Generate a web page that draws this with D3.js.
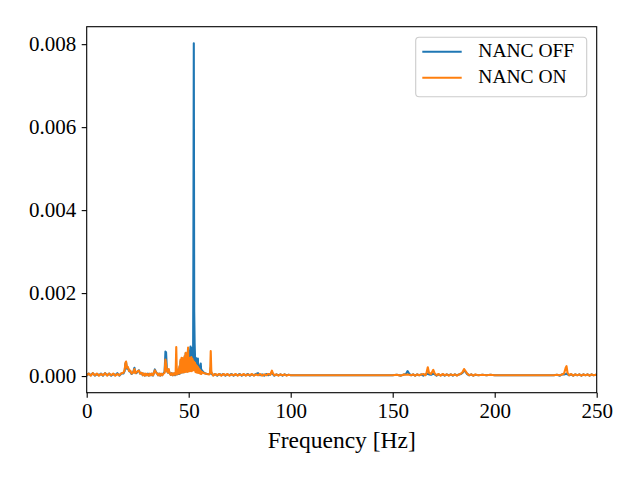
<!DOCTYPE html>
<html>
<head>
<meta charset="utf-8">
<script src="https://cdn.jsdelivr.net/npm/d3@7"></script>
<style>
body { margin: 0; background: #fff; }
svg text { font-family: "Liberation Serif", "Times New Roman", serif; }
</style>
</head>
<body>
<div id="chart"></div>
<script>
// spectrum values are in units of 1e-5
var valueUnit = 1e-5;

var freqs = [
    0, 1, 2, 3, 4, 5, 6, 7, 8, 9, 10, 11, 12, 13, 14, 15, 16, 17,
    18, 18.6, 19.0, 19.3, 19.7, 20.2, 20.8, 21.4, 22.0, 22.8, 23.4, 23.8, 24.4, 25.0, 25.6, 26.2, 27.0,
    27.5, 28, 28.5, 29, 29.5, 30, 30.5, 31, 31.5, 32, 32.5,
    33.0, 33.4, 33.9, 34.5, 35, 35.5, 36, 36.5, 37, 37.5, 38.2, 38.6, 38.9, 39.3, 39.8, 40.2, 40.6, 41.2, 41.7, 42.2, 42.8, 43.3, 43.6, 43.9, 44.2, 44.5, 44.8,
    45.0, 45.25, 45.5, 45.75, 46.0, 46.25, 46.5, 46.75, 47.0, 47.25,
    47.5, 47.75, 48.0, 48.25, 48.5, 48.75, 49.0, 49.25, 49.5, 49.7,
    49.9, 50.1, 50.35, 50.6, 50.9, 51.1, 51.3, 51.5, 51.75, 52.0,
    52.15, 52.3, 52.5, 52.7, 52.9, 53.1, 53.3, 53.5, 53.75, 54.0,
    54.25, 54.5, 54.75, 55.0, 55.25, 55.5, 55.75, 55.9, 56.2, 56.5, 57.0,
    57.6, 58.2, 59, 60, 60.5, 60.8, 61.1, 61.6,
    62, 63, 64, 65, 66, 67, 68, 69, 70, 71, 72, 73, 74, 75, 76, 77, 78, 79, 80, 81, 82, 83, 84, 85, 86, 87, 88, 89, 90,
    90.4, 90.8, 91.2,
    92, 93, 94, 95, 96, 97, 98, 99, 100,
    102, 104, 106, 108, 110, 114, 118, 122, 126, 130,
    134, 138, 142, 146, 150, 152, 154, 155.5, 156.5, 157.3,
    158, 159, 160, 161, 162, 163, 164, 165, 166, 166.5,
    167.2, 167.8, 168.8, 169.9, 170.6, 171.5, 172.5, 173.5, 174.5, 175.5,
    176.5, 177.5, 178.5, 179.5, 180.5, 181.5, 182.5, 183.5, 184.3, 185.0,
    185.7, 186.5, 187.5, 188.5, 189.5, 190.5, 192, 194, 196, 198,
    200, 203, 206, 210, 214, 218, 222, 226, 229, 230.5,
    232, 233, 234, 234.8, 235.2, 235.7, 236.5, 237.5, 238.5, 239.5,
    240.5, 241.5, 242.5, 243.5, 244.5, 245.5, 246.5, 247.5, 248.5, 249.5,
    250
];

var nancOff = [
    1, 6, 2, 7, 1, 5, 2, 6, 1, 7, 2, 6, 1, 5, 2, 7, 1, 6,
    6, 12, 30, 33, 18, 20, 12, 10, 5, 9, 20, 8, 7, 11, 14, 6, 7,
    2, 6, 1, 5, 2, 6, 1, 5, 2, 6, 1,
    8, 16, 10, 6, 2, 6, 1, 5, 2, 6, 10, 59, 57, 15, 8, 14, 8, 3, 7, 2, 6, 2, 6, 10, 4, 8, 8,
    14, 5, 22, 6, 36, 8, 40, 10, 42, 9,
    36, 10, 46, 12, 54, 11, 46, 12, 55, 62,
    12, 44, 13, 58, 71, 14, 62, 15, 68, 58,
    20, 300, 802, 155, 80, 46, 14, 44, 12, 40,
    10, 42, 9, 26, 8, 24, 8, 30, 7, 14, 10,
    8, 6, 5, 5, 6, 20, 6, 4,
    2, 5, 1, 5, 2, 5, 1, 4, 2, 5, 1, 4, 2, 5, 1, 4, 2, 5, 1, 4, 2, 5, 7, 2, 4, 1, 5, 2, 5,
    6, 10, 5,
    1, 4, 2, 4, 1, 4, 2, 3, 2,
    2, 2, 2, 2, 2, 2, 2, 2, 2, 2,
    2, 2, 2, 2, 2, 3, 1, 4, 5, 12,
    6, 2, 4, 1, 4, 2, 4, 1, 4, 4,
    6, 4, 3, 6, 4, 1, 4, 2, 4, 1,
    4, 2, 4, 1, 4, 2, 4, 5, 8, 14,
    10, 5, 2, 4, 1, 3, 2, 3, 2, 3,
    2, 2, 2, 2, 2, 2, 2, 2, 2, 3,
    1, 4, 4, 5, 6, 4, 2, 4, 1, 4,
    2, 4, 1, 4, 2, 4, 1, 4, 2, 3,
    2
];

var nancOn = [
    2, 6, 1, 7, 2, 6, 1, 5, 2, 7, 1, 6, 2, 6, 1, 5, 2, 7,
    8, 15, 32, 35, 20, 22, 12, 13, 6, 9, 17, 7, 9, 12, 13, 6, 8,
    2, 6, 1, 6, 2, 5, 1, 6, 2, 6, 2,
    8, 14, 9, 6, 2, 6, 1, 6, 2, 5, 8, 40, 30, 12, 9, 17, 7, 3, 7, 2, 7, 3, 8, 70, 4, 9, 10,
    16, 6, 24, 7, 40, 9, 44, 8, 43, 10,
    38, 9, 48, 10, 56, 12, 45, 10, 52, 69,
    11, 42, 12, 44, 38, 12, 46, 12, 42, 38,
    14, 36, 30, 34, 14, 32, 10, 28, 9, 25,
    8, 22, 8, 18, 7, 15, 6, 12, 5, 10, 8,
    7, 6, 5, 4, 8, 60, 10, 5,
    1, 5, 2, 5, 1, 5, 2, 5, 1, 4, 2, 5, 1, 4, 2, 5, 1, 4, 2, 5, 1, 4, 2, 5, 1, 4, 2, 5, 3,
    8, 13, 7,
    2, 4, 1, 4, 2, 4, 1, 3, 2,
    2, 2, 2, 2, 2, 2, 2, 2, 2, 2,
    2, 2, 2, 2, 2, 3, 1, 4, 3, 4,
    3, 2, 4, 1, 4, 2, 4, 5, 2, 6,
    21, 8, 5, 15, 6, 2, 5, 1, 5, 2,
    4, 1, 4, 2, 4, 1, 4, 6, 10, 17,
    12, 6, 2, 4, 1, 4, 2, 3, 2, 3,
    2, 2, 2, 2, 2, 2, 2, 2, 2, 3,
    2, 4, 6, 20, 24, 8, 2, 5, 1, 4,
    2, 4, 1, 4, 2, 4, 1, 4, 2, 3,
    2
];

var seriesNames = ["NANC OFF", "NANC ON"];
var seriesColors = ["#1f77b4", "#ff7f0e"];
var xTicks = [0, 50, 100, 150, 200, 250];
var yTicks = [0, 0.002, 0.004, 0.006, 0.008];
var xLabel = "Frequency [Hz]";

var svgWidth = 640;
var svgHeight = 480;
var plot = { left: 86.7, right: 596.7, top: 26.7, bottom: 392.7 };

if (freqs.length !== nancOff.length || freqs.length !== nancOn.length) {
    console.log("length mismatch", freqs.length, nancOff.length, nancOn.length);
}

var svg = d3.select("#chart")
    .append("svg")
    .attr("width", svgWidth)
    .attr("height", svgHeight)
    .style("display", "block");

var xScale = d3.scaleLinear()
    .domain([0, 250])
    .range([plot.left, plot.right]);

var yScale = d3.scaleLinear()
    .domain([-0.000401, 0.008421])
    .range([plot.bottom, plot.top]);

// build series from the arrays
var series = [nancOff, nancOn].map(function (vals, i) {
    return {
        name: seriesNames[i],
        color: seriesColors[i],
        points: freqs.map(function (f, j) { return { f: f, v: vals[j] * valueUnit }; })
    };
});

var line = d3.line()
    .x(d => xScale(d.f))
    .y(d => yScale(d.v));

svg.append("defs").append("clipPath")
    .attr("id", "plot-clip")
    .append("rect")
    .attr("x", plot.left)
    .attr("y", plot.top)
    .attr("width", plot.right - plot.left)
    .attr("height", plot.bottom - plot.top);

svg.append("g")
    .attr("clip-path", "url(#plot-clip)")
    .selectAll("path")
    .data(series)
    .enter()
    .append("path")
    .attr("d", d => line(d.points))
    .attr("fill", "none")
    .attr("stroke", d => d.color)
    .attr("stroke-width", 2.1)
    .attr("stroke-linejoin", "round");

// axes
var xAxis = svg.append("g")
    .attr("transform", `translate(0, ${plot.bottom})`)
    .call(d3.axisBottom(xScale).tickValues(xTicks).tickSize(5).tickSizeOuter(0).tickPadding(5.2));

var yAxis = svg.append("g")
    .attr("transform", `translate(${plot.left}, 0)`)
    .call(d3.axisLeft(yScale).tickValues(yTicks).tickFormat(d3.format(".3f")).tickSize(5).tickSizeOuter(0).tickPadding(5.5));

[xAxis, yAxis].forEach(function (ax) {
    ax.attr("font-family", null).attr("font-size", null);
    ax.select(".domain").remove();
    ax.selectAll("line").attr("stroke", "#000").attr("stroke-width", 1.1);
    ax.selectAll("text")
        .attr("fill", "#000")
        .style("font-size", "21px");
});

// frame
svg.append("rect")
    .attr("x", plot.left)
    .attr("y", plot.top)
    .attr("width", plot.right - plot.left)
    .attr("height", plot.bottom - plot.top)
    .attr("fill", "none")
    .attr("stroke", "#000")
    .attr("stroke-width", 1.1);

// x label
svg.append("text")
    .attr("x", (plot.left + plot.right) / 2)
    .attr("y", 447.7)
    .attr("text-anchor", "middle")
    .style("font-size", "23.5px")
    .text(xLabel);

// legend
var legend = svg.append("g");
legend.append("rect")
    .attr("x", 415.7)
    .attr("y", 37.3)
    .attr("width", 171)
    .attr("height", 59.5)
    .attr("rx", 3.5)
    .attr("fill", "#fff")
    .attr("fill-opacity", 0.8)
    .attr("stroke", "#cccccc")
    .attr("stroke-width", 1.1);

var items = legend.selectAll("g.item")
    .data(series)
    .enter()
    .append("g")
    .attr("class", "item")
    .attr("transform", (d, i) => `translate(0, ${51.7 + i * 26})`);

items.append("line")
    .attr("x1", 422.3)
    .attr("x2", 461.7)
    .attr("stroke", d => d.color)
    .attr("stroke-width", 2.1);

items.append("text")
    .attr("x", 478.3)
    .attr("y", 5.3)
    .style("font-size", "19.5px")
    .text(d => d.name);
</script>
</body>
</html>
